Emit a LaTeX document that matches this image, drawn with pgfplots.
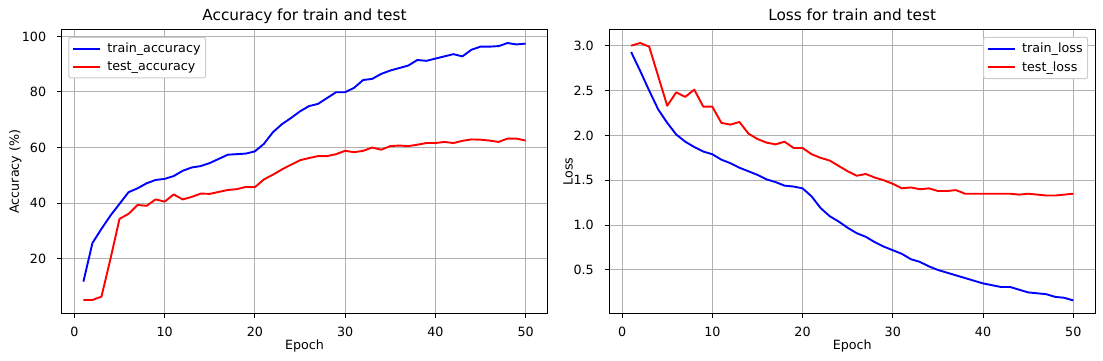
\documentclass[border=0pt]{standalone}
\usepackage{fontspec}
\setmainfont{DejaVu Sans}
\usepackage{pgfplots}
\pgfplotsset{compat=1.18}

\definecolor{gridgray}{HTML}{B0B0B0}
\definecolor{legedge}{HTML}{CCCCCC}

\pgfplotsset{
  mpl/.style={
    scale only axis, width=486.4pt, height=283.3pt,
    xmin=-1.45, xmax=52.45,
    xtick={0,10,20,30,40,50},
    grid=major, grid style={gridgray, line width=1pt},
    axis line style={line width=1pt, black},
    tick align=outside, tick pos=left, major tick length=4.4pt,
    every tick/.style={black, line width=1pt},
    /pgf/number format/assume math mode=true,
    tick label style={font=\fontsize{12.7}{15}\selectfont},
    xticklabel style={anchor=base, yshift=-18.4pt},
    yticklabel style={anchor=east, inner sep=0pt, xshift=-10.6pt},
    title style={at={(axis description cs:0.5,1.0123)}, anchor=base, font=\fontsize{15.3}{18}\selectfont},
    every axis x label/.style={at={(axis description cs:0.5,-0.127)}, anchor=base, font=\fontsize{12.7}{15}\selectfont},
    legend cell align=left,
    every axis plot/.append style={line width=1.9pt, line join=round},
  },
  mpllegend/.style={legend style={draw=legedge, line width=1pt, rounded corners=2pt,
      fill=white,
      font=\fontsize{12.7}{15}\selectfont,
      inner xsep=3pt, inner ysep=4pt, row sep=3pt, nodes={inner sep=2pt}}},
  bluelegend/.style={legend image code/.code={\draw[blue, line width=1.9pt] (0pt,0pt) -- (27.6pt,0pt); \path (31.6pt,0pt);}},
  redlegend/.style={legend image code/.code={\draw[red, line width=1.9pt] (0pt,0pt) -- (27.6pt,0pt); \path (31.6pt,0pt);}},
}

\pgfplotstableread{
e trainacc testacc trainloss testloss
1 11.7 5.1 2.93 3.00
2 25.6 5.1 2.72 3.03
3 30.7 6.3 2.50 2.99
4 35.5 19.9 2.29 2.66
5 39.7 34.3 2.14 2.33
6 43.9 36.1 2.01 2.48
7 45.3 39.3 1.93 2.43
8 47.1 39.0 1.87 2.51
9 48.3 41.3 1.82 2.32
10 48.7 40.5 1.79 2.32
11 49.7 43.1 1.73 2.14
12 51.6 41.3 1.69 2.12
13 52.8 42.2 1.64 2.15
14 53.3 43.4 1.60 2.02
15 54.4 43.3 1.56 1.96
16 55.9 44.0 1.51 1.92
17 57.4 44.7 1.48 1.90
18 57.6 45.0 1.44 1.93
19 57.8 45.8 1.43 1.86
20 58.6 45.7 1.41 1.86
21 61.3 48.5 1.32 1.79
22 65.5 50.2 1.19 1.75
23 68.4 52.1 1.10 1.72
24 70.6 53.8 1.04 1.66
25 73.0 55.4 0.97 1.60
26 74.9 56.2 0.91 1.55
27 75.7 56.9 0.87 1.57
28 77.8 56.9 0.81 1.53
29 79.9 57.6 0.76 1.50
30 79.9 58.8 0.72 1.46
31 81.5 58.3 0.68 1.41
32 84.3 58.8 0.62 1.42
33 84.7 60.0 0.59 1.40
34 86.5 59.2 0.54 1.41
35 87.7 60.5 0.50 1.38
36 88.6 60.7 0.47 1.38
37 89.5 60.5 0.44 1.39
38 91.5 61.0 0.41 1.35
39 91.2 61.6 0.38 1.35
40 92.0 61.6 0.35 1.35
41 92.8 62.0 0.33 1.35
42 93.6 61.6 0.31 1.35
43 92.8 62.4 0.31 1.35
44 95.2 62.9 0.28 1.34
45 96.3 62.8 0.25 1.35
46 96.3 62.5 0.24 1.34
47 96.5 62.0 0.23 1.33
48 97.6 63.2 0.20 1.33
49 97.1 63.2 0.19 1.34
50 97.4 62.5 0.16 1.35
}\datatable

\begin{document}
\begin{tikzpicture}
\path[use as bounding box] (0pt,0pt) rectangle (1103pt,361pt);
\begin{axis}[mpl, mpllegend, at={(61.3pt,47.7pt)}, anchor=south west,
  ymin=0.3, ymax=102.3, ytick={20,40,60,80,100},
  title={Accuracy for train and test},
  xlabel={Epoch}, ylabel={Accuracy (\%)},
  every axis y label/.style={at={(axis description cs:-0.0945,0.5)}, rotate=90, anchor=center, font=\fontsize{12.7}{15}\selectfont},
  legend style={at={(0.0144,0.976)}, anchor=north west},
]
\addplot[blue, bluelegend] table[x=e, y=trainacc] {\datatable};
\addlegendentry{train\_accuracy}
\addplot[red, redlegend] table[x=e, y=testacc] {\datatable};
\addlegendentry{test\_accuracy}
\end{axis}
\begin{axis}[mpl, mpllegend, at={(609pt,47.7pt)}, anchor=south west,
  ymin=0.017, ymax=3.175, ytick={0.5,1.0,1.5,2.0,2.5,3.0},
  yticklabel style={/pgf/number format/.cd, fixed, fixed zerofill, precision=1},
  title={Loss for train and test},
  xlabel={Epoch}, ylabel={Loss},
  every axis y label/.style={at={(axis description cs:-0.0843,0.5)}, rotate=90, anchor=center, font=\fontsize{12.7}{15}\selectfont},
  legend style={at={(0.985,0.976)}, anchor=north east},
]
\addplot[blue, bluelegend] table[x=e, y=trainloss] {\datatable};
\addlegendentry{train\_loss}
\addplot[red, redlegend] table[x=e, y=testloss] {\datatable};
\addlegendentry{test\_loss}
\end{axis}
\end{tikzpicture}
\end{document}
